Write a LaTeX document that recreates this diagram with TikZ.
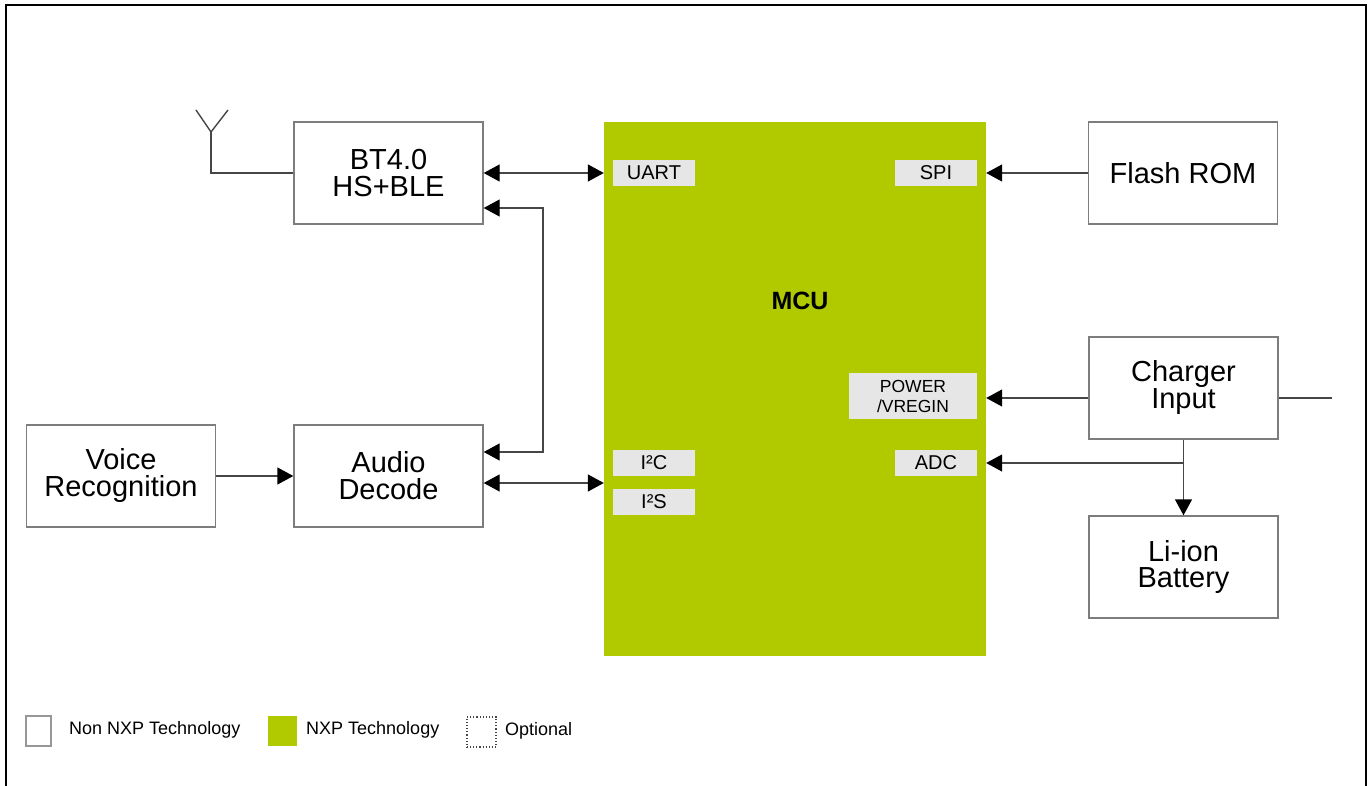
\documentclass[tikz,border=0pt]{standalone}
\usepackage{fontspec}
\setmainfont{Liberation Sans}
\usetikzlibrary{arrows.meta}
\definecolor{nxpgreen}{RGB}{177,202,0}
\definecolor{lblgray}{RGB}{230,230,230}
\definecolor{boxgray}{RGB}{125,125,125}
\definecolor{linegray}{RGB}{70,70,70}
\begin{document}
\begin{tikzpicture}[x=1pt,y=-1pt,
  blk/.style={draw=boxgray,line width=1.4pt,fill=white,minimum width=189pt,minimum height=102pt,
    align=center,inner sep=0pt,font=\fontsize{29}{27}\selectfont},
  lbl/.style={fill=lblgray,minimum width=82pt,minimum height=26pt,inner sep=0pt,align=center,
    font=\fontsize{20}{20}\selectfont},
  conn/.style={draw=linegray,line width=1.4pt},
  tip/.style={-{Triangle[length=16pt,width=17pt,color=black]}},
  tips/.style={{Triangle[length=16pt,width=17pt,color=black]}-{Triangle[length=16pt,width=17pt,color=black]}},
  legtxt/.style={anchor=west,inner sep=0pt,font=\fontsize{18}{18}\selectfont}]
\useasboundingbox (0,0) rectangle (1369,786);
\fill[white] (0,0) rectangle (1369,786);
% frame
\draw[line width=2.5pt,black] (6,786) -- (6,5) -- (1366,5) -- (1366,786);

% MCU
\node[fill=nxpgreen,minimum width=382pt,minimum height=534pt,inner sep=0pt] (mcu) at (795,389) {};
\node[font=\fontsize{25}{25}\selectfont\bfseries] (mcul) at (800,301) {MCU};
\node[lbl] (uart) at (654,173) {UART};
\node[lbl] (spi) at (936,173) {SPI};
\node[lbl,minimum width=128pt,minimum height=46pt,font=\fontsize{17.5}{20}\selectfont] (pwr) at (913,396) {POWER\\/VREGIN};
\node[lbl] (adc) at (936,463) {ADC};
\node[lbl] (i2c) at (654,463) {I²C};
\node[lbl] (i2s) at (654,502) {I²S};

% blocks
\node[blk] (bt) at (388.5,173) {BT4.0\\HS+BLE};
\node[blk] (audio) at (388.5,476) {Audio\\Decode};
\node[blk] (voice) at (121,476) {Voice\\Recognition};
\node[blk] (flash) at (1183,173) {Flash ROM};
\node[blk] (charger) at (1183.5,388) {Charger\\Input};
\node[blk] (batt) at (1183.5,567) {Li-ion\\Battery};

% antenna
\coordinate (ant) at (211,132);
\coordinate (antl) at (196,110);
\coordinate (antr) at (228,110);
\draw[conn] (bt.west) -| (ant);
\draw[conn] (antl) -- (ant) -- (antr);

% connectors
\draw[conn,tips] (bt.east) -- (bt.east -| mcu.west);
\coordinate (bus) at (543,300);
\draw[conn,tips] ([yshift=24pt]audio.east) -| (bus) |- ([yshift=-35pt]bt.east);
\draw[conn,tips] ([yshift=-7pt]audio.east) -- ([yshift=-7pt]audio.east -| mcu.west);
\draw[conn,tip] (voice) -- (audio);
\draw[conn,tip] (flash.west) -- (flash.west -| mcu.east);
\draw[conn,tip] ([yshift=-10pt]charger.west) -- ([yshift=-10pt]charger.west -| mcu.east);
\coordinate (chgout) at (1332,398);
\draw[conn] ([yshift=-10pt]charger.east) -- (chgout);
\draw[conn,tip] (charger.south) -- (batt.north);
\draw[conn,tip] (charger.south |- adc.east) -- (adc.east -| mcu.east);

% legend
\node[draw=boxgray!80,line width=1.2pt,minimum width=25pt,minimum height=30pt,inner sep=0pt] (lg1) at (38.5,731) {};
\node[legtxt] (lt1) at (69,730) {Non NXP Technology};
\node[fill=nxpgreen,minimum width=29pt,minimum height=30pt,inner sep=0pt] (lg2) at (282.5,731) {};
\node[legtxt] (lt2) at (306,730) {NXP Technology};
\node[draw=linegray,dotted,line width=1.1pt,minimum width=29pt,minimum height=30pt,inner sep=0pt] (lg3) at (481.5,732) {};
\node[legtxt] (lt3) at (505,731) {Optional};
\end{tikzpicture}
\end{document}
